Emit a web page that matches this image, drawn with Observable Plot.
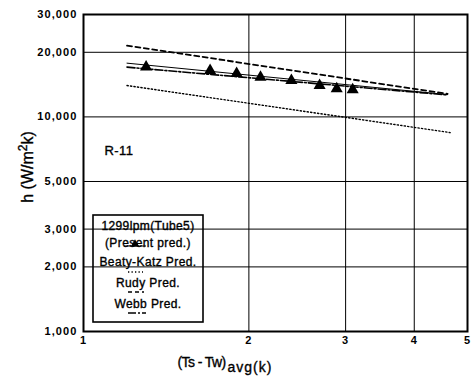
<!DOCTYPE html>
<html>
<head>
<meta charset="utf-8">
<script src="https://cdn.jsdelivr.net/npm/d3@7"></script>
<script src="https://cdn.jsdelivr.net/npm/@observablehq/plot@0.6"></script>
<style>
  html, body { margin: 0; padding: 0; background: white; }
  #chart svg { display: block; }
</style>
</head>
<body>
<div id="chart"></div>
<script>
// ---- data ----
const xTicks = [1, 2, 3, 4, 5];
const yTicks = [1000, 2000, 3000, 5000, 10000, 20000, 30000];
const xGrid = [2, 3, 4];
const yGrid = [2000, 3000, 5000, 10000, 20000];

// measured data (1299 lpm, Tube 5)
const measX = [1.30, 1.70, 1.90, 2.10, 2.39, 2.69, 2.89, 3.09];
const measY = [17070, 16450, 15930, 15310, 14780, 14010, 13520, 13370];

// predictions
const presentX = [1.2, 4.6];
const presentY = [17800, 12700];
const beatyX = [1.2, 4.65];
const beatyY = [14000, 8450];
const rudyX = [1.2, 4.6];
const rudyY = [21500, 12800];
const webbX = [1.2, 4.6];
const webbY = [17050, 12650];

const legendLabels = ["1299lpm(Tube5)", "(Present pred.)", "Beaty-Katz Pred.", "Rudy Pred.", "Webb Pred."];
const annotation = "R-11";

const pts = (xs, ys) => xs.map((x, i) => ({x, y: ys[i]}));

const chart = Plot.plot({
  width: 474,
  height: 376,
  marginLeft: 83,
  marginRight: 7,
  marginTop: 14,
  marginBottom: 45,
  style: {fontFamily: "'Liberation Sans', Arial, sans-serif", fontSize: "11px", background: "white", color: "black"},
  x: {type: "log", domain: [1, 5]},
  y: {type: "log", domain: [1000, 30000]},
  marks: [
    Plot.gridX(xGrid, {stroke: "black", strokeOpacity: 1, strokeWidth: 1}),
    Plot.gridY(yGrid, {stroke: "black", strokeOpacity: 1, strokeWidth: 1}),
    Plot.axisX({ticks: xTicks, tickSize: 0, tickPadding: 5, tickFormat: d => String(d), fontWeight: "bold", label: null}),
    Plot.axisY({ticks: yTicks, tickSize: 0, tickPadding: 6, tickFormat: d3.format(","), fontWeight: "bold", label: null}),
    Plot.line(pts(beatyX, beatyY), {x: "x", y: "y", stroke: "black", strokeWidth: 1.4, strokeDasharray: "1.3 2.2"}),
    Plot.line(pts(rudyX, rudyY), {x: "x", y: "y", stroke: "black", strokeWidth: 1.8, strokeDasharray: "5 3.5"}),
    Plot.line(pts(webbX, webbY), {x: "x", y: "y", stroke: "black", strokeWidth: 1.6, strokeDasharray: "8 2 2 2"}),
    Plot.line(pts(presentX, presentY), {x: "x", y: "y", stroke: "black", strokeWidth: 1}),
    Plot.dot(pts(measX, measY), {x: "x", y: "y", symbol: "triangle", r: 4.5, fill: "black", stroke: "none"}),
    Plot.frame({stroke: "black", strokeWidth: 2})
  ]
});

document.getElementById("chart").appendChild(chart);

// ---- decorations in pixel space (labels, legend) ----
const svg = d3.select(chart);
svg.selectAll("g[aria-label='x-axis tick label'] text, g[aria-label='y-axis tick label'] text")
  .attr("letter-spacing", "1.1px");

const font = "'Liberation Sans', Arial, sans-serif";
const heavy = sel => sel.attr("stroke", "black").attr("stroke-width", 0.35).attr("fill", "black");

// annotation
heavy(svg.append("text").attr("x", 119).attr("y", 152).attr("dominant-baseline", "middle")
  .attr("font-family", font).attr("font-size", 13).attr("letter-spacing", "0.5px").text(annotation));

// x title
const xt = heavy(svg.append("text").attr("x", 225).attr("y", 367)
  .attr("font-family", font).attr("font-size", 14));
xt.append("tspan").attr("letter-spacing", "-0.6px").text("(Ts - Tw)");
xt.append("tspan").attr("dy", 5).attr("dx", 2).attr("letter-spacing", "1px").text("avg(k)");

// y title
const yt = heavy(svg.append("text").attr("transform", "translate(33,167) rotate(-90)")
  .attr("text-anchor", "middle").attr("font-family", font).attr("font-size", 16));
yt.append("tspan").text("h (W/m");
yt.append("tspan").attr("dy", -6).attr("font-size", 12).text("2");
yt.append("tspan").attr("dy", 6).text("k)");

// legend
const lg = svg.append("g");
lg.append("rect").attr("x", 93).attr("y", 215).attr("width", 110).attr("height", 107)
  .attr("fill", "none").attr("stroke", "black").attr("stroke-width", 1.6);
const ly = [227, 244, 263, 284, 305];
legendLabels.forEach((t, i) => {
  heavy(lg.append("text").attr("x", 148).attr("y", ly[i]).attr("text-anchor", "middle")
    .attr("dominant-baseline", "middle").attr("font-family", font).attr("font-size", 12)
    .attr("letter-spacing", "0.4px").text(t));
});
lg.append("line").attr("x1", 124).attr("x2", 146).attr("y1", 246).attr("y2", 246).attr("stroke", "black").attr("stroke-width", 1);
lg.append("path").attr("d", d3.symbol(d3.symbolTriangle, 30)()).attr("transform", "translate(135,244)").attr("fill", "black");
lg.append("line").attr("x1", 128).attr("x2", 143).attr("y1", 272).attr("y2", 272).attr("stroke", "black").attr("stroke-width", 1.3).attr("stroke-dasharray", "1.3 2.2");
lg.append("line").attr("x1", 128).attr("x2", 144).attr("y1", 292).attr("y2", 292).attr("stroke", "black").attr("stroke-width", 1.6).attr("stroke-dasharray", "4 3");
lg.append("line").attr("x1", 128).attr("x2", 146).attr("y1", 313).attr("y2", 313).attr("stroke", "black").attr("stroke-width", 1.6).attr("stroke-dasharray", "8 2 2 2");
</script>
</body>
</html>
